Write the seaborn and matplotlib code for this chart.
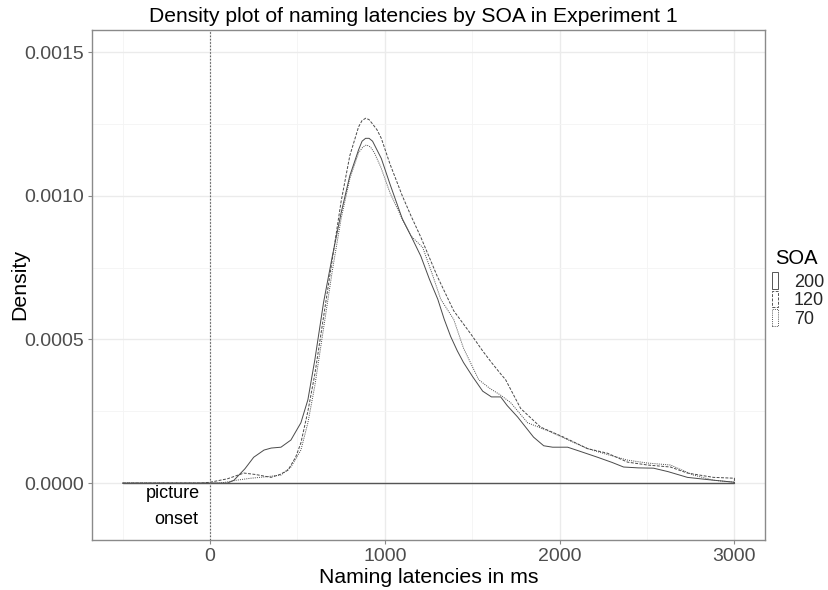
import matplotlib
matplotlib.use("Agg")
import matplotlib.pyplot as plt
import seaborn as sns
import pandas as pd
from matplotlib.patches import Patch

# ---- data ----
soa_levels = ["200", "120", "70"]

x_200 = [-500, 100, 137, 200, 250, 309, 350, 406, 463, 520, 560, 600, 650, 700, 750, 800, 850, 870,
         890, 910, 930, 955, 980, 1030, 1065, 1100, 1150, 1206, 1255, 1303, 1340, 1377, 1415, 1450,
         1503, 1560, 1610, 1663, 1700, 1760, 1851, 1909, 1960, 2046, 2120, 2217, 2300, 2366, 2450,
         2537, 2620, 2731, 2850, 3000, 3000]
d_200 = [0, 0, 0.00001, 0.00005, 0.00009, 0.000115, 0.000122, 0.000125, 0.00015, 0.00021, 0.00029,
         0.00043, 0.00063, 0.00079, 0.00094, 0.00107, 0.00116, 0.00119, 0.00120, 0.00120, 0.00119,
         0.00116, 0.00113, 0.00104, 0.00098, 0.00092, 0.00086, 0.00079, 0.00071, 0.00064, 0.00057,
         0.00051, 0.00046, 0.00042, 0.00037, 0.00032, 0.00030, 0.00030, 0.00027, 0.00023, 0.00016,
         0.00013, 0.000125, 0.000125, 0.00011, 0.00009, 0.000072, 0.000056, 0.000053, 0.000052,
         0.00004, 0.00002, 0.000012, 0.000003, 0]

x_120 = [-500, -50, 0, 100, 194, 260, 349, 400, 446, 490, 520, 560, 600, 650, 700, 750, 800, 850, 870,
         891, 910, 930, 955, 980, 1030, 1100, 1150, 1206, 1300, 1394, 1491, 1560, 1610, 1663, 1691,
         1777, 1891, 2023, 2160, 2274, 2389, 2503, 2634, 2731, 2880, 3000, 3000]
d_120 = [0, 0, 0.000003, 0.000015, 0.000035, 0.00003, 0.00002, 0.00003, 0.000045, 0.00009, 0.00014,
         0.00025, 0.00038, 0.00058, 0.00078, 0.00098, 0.00114, 0.00124, 0.001262, 0.00127, 0.001265,
         0.00125, 0.00123, 0.00120, 0.00111, 0.00100, 0.00093, 0.000856, 0.00072, 0.00060, 0.00052,
         0.00046, 0.00042, 0.00038, 0.00036, 0.00026, 0.000195, 0.00016, 0.00012, 0.000104,
         0.000073, 0.000063, 0.000056, 0.000035, 0.00002, 0.000017, 0]

x_70 = [-500, 50, 80, 150, 234, 320, 406, 463, 520, 560, 600, 650, 700, 750, 800, 850, 875, 895, 918,
        940, 977, 1030, 1103, 1150, 1217, 1270, 1320, 1394, 1450, 1537, 1600, 1663, 1720, 1817, 1949,
        2050, 2160, 2270, 2389, 2500, 2634, 2766, 2880, 3000, 3000]
d_70 = [0, 0, 0.000002, 0.00001, 0.000017, 0.000022, 0.000028, 0.000056, 0.000115, 0.00021, 0.00034,
        0.00054, 0.00074, 0.00092, 0.00106, 0.00115, 0.00117, 0.001177, 0.00117, 0.00115, 0.00110,
        0.00101, 0.000915, 0.00086, 0.00082, 0.00073, 0.00064, 0.00057, 0.00047, 0.00036, 0.00033,
        0.000306, 0.00028, 0.00021, 0.000178, 0.00015, 0.00012, 0.0001, 0.00008, 0.00007, 0.000063,
        0.000028, 0.00001, 0.000003, 0]

baseline_x = [-500, 3000]
baseline_y = [0, 0]
onset_x = [0]

x_ticks = [0, 1000, 2000, 3000]
y_ticks = [0, 0.0005, 0.0010, 0.0015]
y_tick_labels = ["0.0000", "0.0005", "0.0010", "0.0015"]

df = pd.concat([
    pd.DataFrame({"x": x_200, "density": d_200, "SOA": "200"}),
    pd.DataFrame({"x": x_120, "density": d_120, "SOA": "120"}),
    pd.DataFrame({"x": x_70, "density": d_70, "SOA": "70"}),
], ignore_index=True)

# ---- style ----
sns.set_theme(style="white")
plt.rcParams["font.family"] = ["Liberation Sans", "DejaVu Sans"]

fig = plt.figure(figsize=(8.29, 5.90), dpi=100)
ax = fig.add_axes([92 / 829, 50 / 590, (765 - 92) / 829, (540 - 30) / 590])

line_col = "#4a4a4a"
dash_map = {"200": "", "120": (3, 1.5), "70": (1, 1.2)}
ls_map = {"200": "-", "120": (0, (3, 1.5)), "70": (0, (1, 1.2))}

sns.lineplot(data=df, x="x", y="density", style="SOA", style_order=soa_levels,
             dashes=dash_map, color=line_col, linewidth=0.7, sort=False,
             estimator=None, legend=False, ax=ax)

ax.plot(baseline_x, baseline_y, color="#555555", linewidth=1.0, zorder=3)
for xv in onset_x:
    ax.axvline(xv, color="#666666", linewidth=0.8, linestyle=(0, (1.5, 1.5)), zorder=3)

ax.set_xlim(-675, 3175)
ax.set_ylim(-0.000198, 0.001577)

ax.set_xticks(x_ticks)
ax.set_xticklabels([str(v) for v in x_ticks])
ax.set_yticks(y_ticks)
ax.set_yticklabels(y_tick_labels)
ax.set_xticks([-500, 500, 1500, 2500], minor=True)
ax.set_yticks([0.00025, 0.00075, 0.00125], minor=True)

ax.grid(True, which="major", color="#ebebeb", linewidth=1.0)
ax.grid(True, which="minor", color="#f4f4f4", linewidth=0.6)
ax.set_axisbelow(True)

for sp in ax.spines.values():
    sp.set_color("#8a8a8a")
    sp.set_linewidth(1.0)

ax.tick_params(axis="both", which="major", length=3, width=0.8, color="#8a8a8a",
               labelsize=14, labelcolor="#4d4d4d", pad=3, bottom=True, left=True)
ax.tick_params(axis="both", which="minor", length=0)

ax.set_xlabel("Naming latencies in ms", fontsize=15.3, color="black", labelpad=2)
ax.set_ylabel("Density", fontsize=15.3, color="black")
ax.yaxis.set_label_coords((29 - 92) / (765 - 92), 0.5)

fig.text(0.499, 0.988, "Density plot of naming latencies by SOA in Experiment 1",
         ha="center", va="top", fontsize=15.2, color="black")

ax.text(-211, -0.0000348, "picture", ha="center", va="center", fontsize=13, color="black")
ax.text(-194, -0.000125, "onset", ha="center", va="center", fontsize=13, color="black")

fig.text(775 / 829, 1 - 258 / 590, "SOA", ha="left", va="center", fontsize=14.5, color="black")
handles = [Patch(facecolor="none", edgecolor="#555555", linewidth=0.7, linestyle=ls_map[s], label=s)
           for s in soa_levels]
leg = fig.legend(handles=handles, loc="upper left",
                 bbox_to_anchor=(772 / 829, 1 - 272 / 590), frameon=False,
                 fontsize=13, handlelength=0.36, handleheight=1.05,
                 handletextpad=0.85, labelspacing=0.0, borderaxespad=0, borderpad=0.0)

fig.savefig("out.png", dpi=100)
